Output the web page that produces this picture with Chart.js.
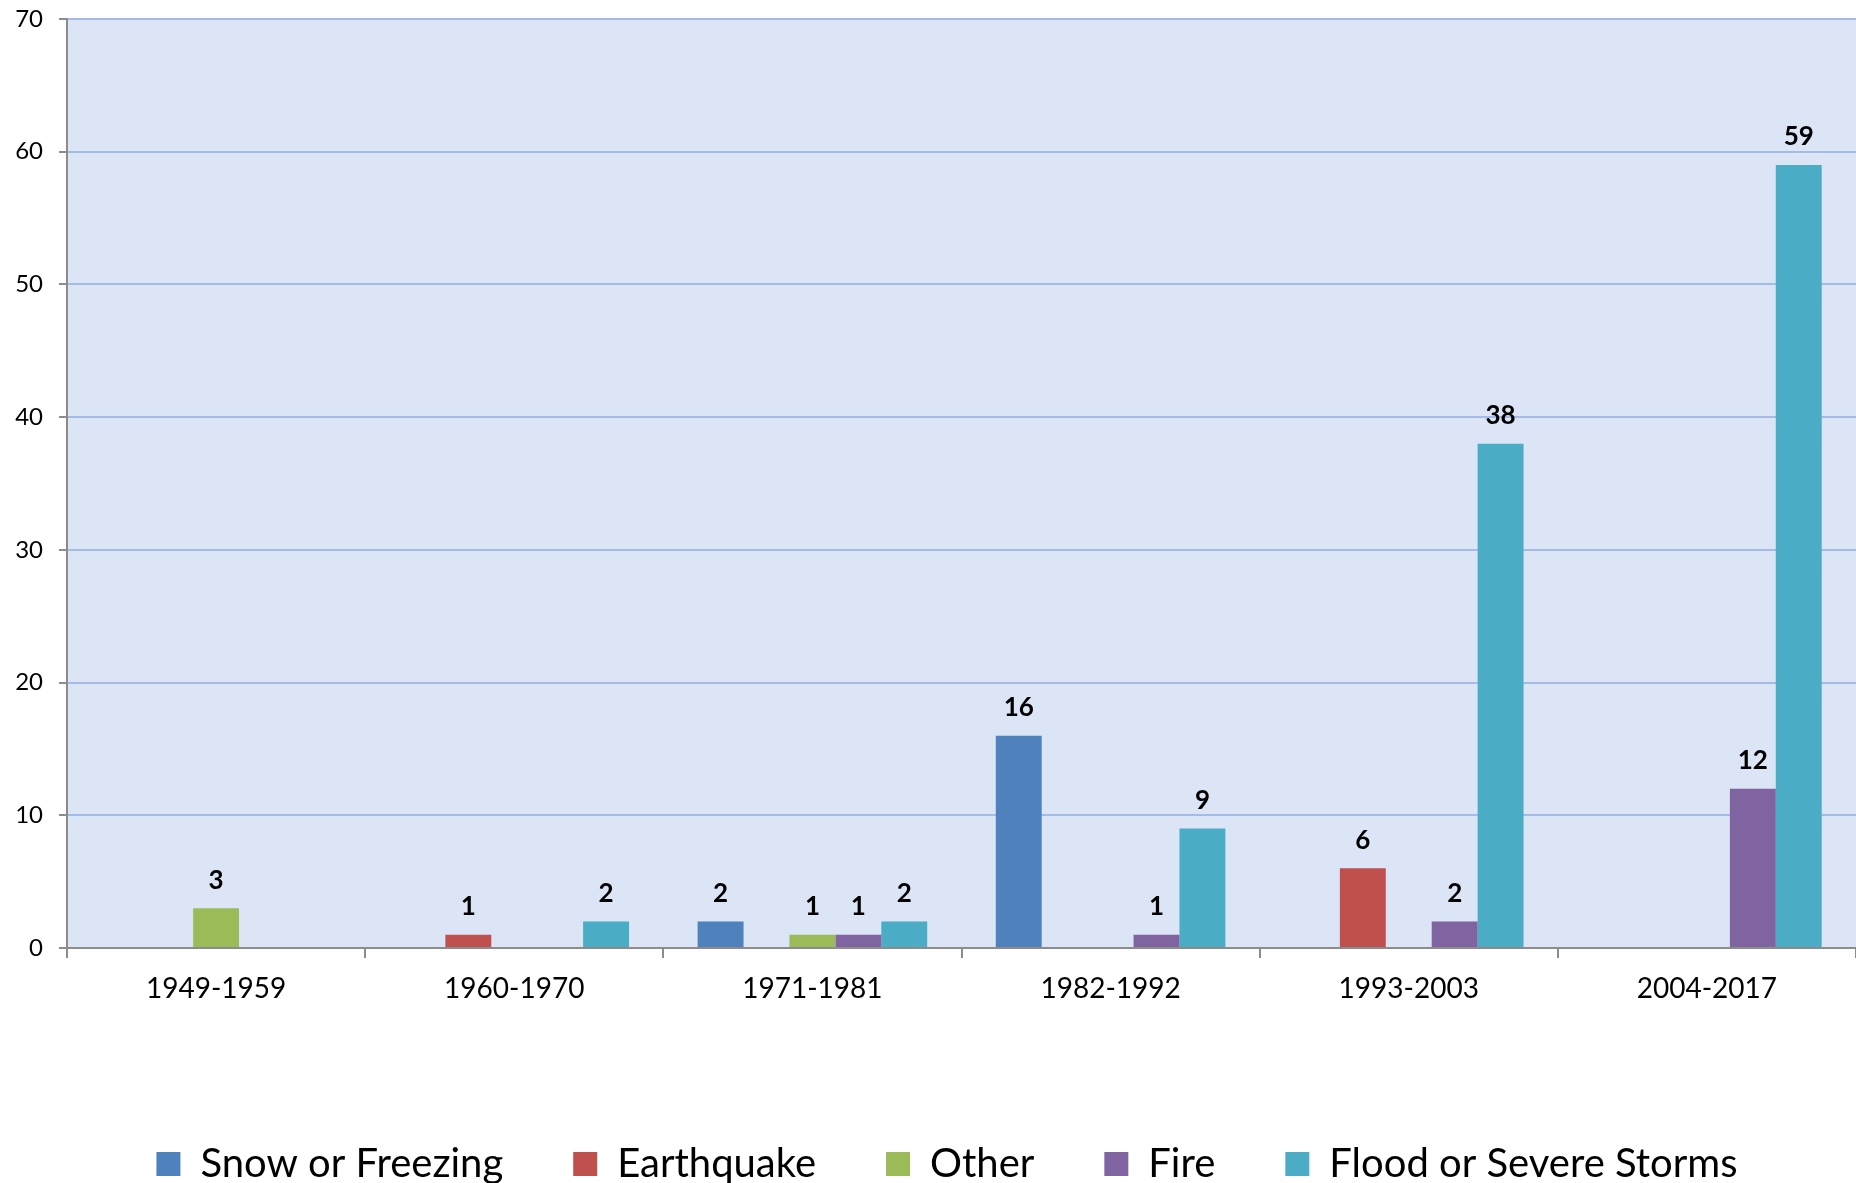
<!DOCTYPE html>
<html>
<head>
<meta charset="utf-8">
<script src="https://cdn.jsdelivr.net/npm/chart.js@4.4.1/dist/chart.umd.min.js"></script>
<style>
  html, body { margin: 0; padding: 0; background: #fff; overflow: hidden; }
  #wrap { width: 1856px; height: 1194px; position: relative; }
</style>
</head>
<body>
<div id="wrap"><canvas id="disasters"></canvas></div>
<script>
var periods = ['1949-1959', '1960-1970', '1971-1981', '1982-1992', '1993-2003', '2004-2017'];
var snowFreezing = [0, 0, 2, 16, 0, 0];
var earthquake = [0, 1, 0, 0, 6, 0];
var other = [3, 0, 1, 0, 0, 0];
var fire = [0, 0, 1, 1, 2, 12];
var floodStorms = [0, 2, 2, 9, 38, 59];
var yTicks = [0, 10, 20, 30, 40, 50, 60, 70];

var fontFamily = 'Lato, "Noto Sans", sans-serif';
var axisGray = '#8C8C8C';
var gridBlue = '#A3BBE6';

// light blue plot area behind the bars
var plotBackground = {
    id: 'plotBackground',
    beforeDraw: function(chart) {
        var a = chart.chartArea;
        var ctx = chart.ctx;
        ctx.save();
        ctx.fillStyle = '#DBE5F5';
        ctx.fillRect(a.left, a.top, a.right - a.left, a.bottom - a.top);
        ctx.restore();
    }
};

// bold value above each non-zero bar
var barValues = {
    id: 'barValues',
    afterDatasetsDraw: function(chart) {
        var ctx = chart.ctx;
        ctx.save();
        ctx.font = 'bold 26px ' + fontFamily;
        ctx.fillStyle = '#000';
        ctx.textAlign = 'center';
        ctx.textBaseline = 'middle';
        chart.data.datasets.forEach(function(ds, i) {
            chart.getDatasetMeta(i).data.forEach(function(bar, j) {
                if (ds.data[j] > 0)
                    ctx.fillText(ds.data[j], bar.x, bar.y - 28);
            });
        });
        ctx.restore();
    }
};

// the original legend sits a bit right of centre
var legendShift = {
    id: 'legendShift',
    afterLayout: function(chart) {
        if (chart.legend) chart.legend.left += 38;
    }
};

var series = [
    {label: 'Snow or Freezing', data: snowFreezing, color: '#4F81BD'},
    {label: 'Earthquake', data: earthquake, color: '#C0504D'},
    {label: 'Other', data: other, color: '#9BBB59'},
    {label: 'Fire', data: fire, color: '#8064A2'},
    {label: 'Flood or Severe Storms', data: floodStorms, color: '#4BACC6'}
];

new Chart(document.getElementById('disasters').getContext('2d'), {
    type: 'bar',
    data: {
        labels: periods,
        datasets: series.map(function(s) {
            return {
                label: s.label,
                data: s.data,
                backgroundColor: s.color,
                borderWidth: 0,
                categoryPercentage: 0.77,
                barPercentage: 1
            };
        })
    },
    options: {
        responsive: true,
        maintainAspectRatio: false,
        animation: false,
        devicePixelRatio: 1,
        layout: {padding: {top: 19, right: 0, left: 0, bottom: 0}},
        plugins: {
            tooltip: {enabled: false},
            legend: {
                position: 'bottom',
                labels: {
                    boxWidth: 24,
                    boxHeight: 24,
                    padding: 70,
                    color: '#000',
                    font: {family: fontFamily, size: 40}
                }
            }
        },
        scales: {
            x: {
                offset: true,
                grid: {
                    offset: true,
                    drawOnChartArea: false,
                    drawTicks: true,
                    tickLength: 10,
                    tickColor: axisGray,
                    lineWidth: 2
                },
                border: {color: axisGray, width: 2},
                ticks: {
                    color: '#000',
                    padding: 14,
                    font: {family: fontFamily, size: 28}
                },
                afterFit: function(scale) { scale.height = 126; }
            },
            y: {
                min: 0,
                max: 70,
                afterBuildTicks: function(scale) {
                    scale.ticks = yTicks.map(function(v) { return {value: v}; });
                },
                grid: {
                    color: gridBlue,
                    lineWidth: 2,
                    tickLength: 8,
                    tickColor: axisGray
                },
                border: {color: axisGray, width: 2},
                ticks: {
                    color: '#000',
                    padding: 16,
                    font: {family: fontFamily, size: 24}
                },
                afterFit: function(scale) {
                    scale.width = 67;
                    scale.paddingTop = 12;
                    scale.paddingBottom = 12;
                }
            }
        }
    },
    plugins: [plotBackground, barValues, legendShift]
});
</script>
</body>
</html>
